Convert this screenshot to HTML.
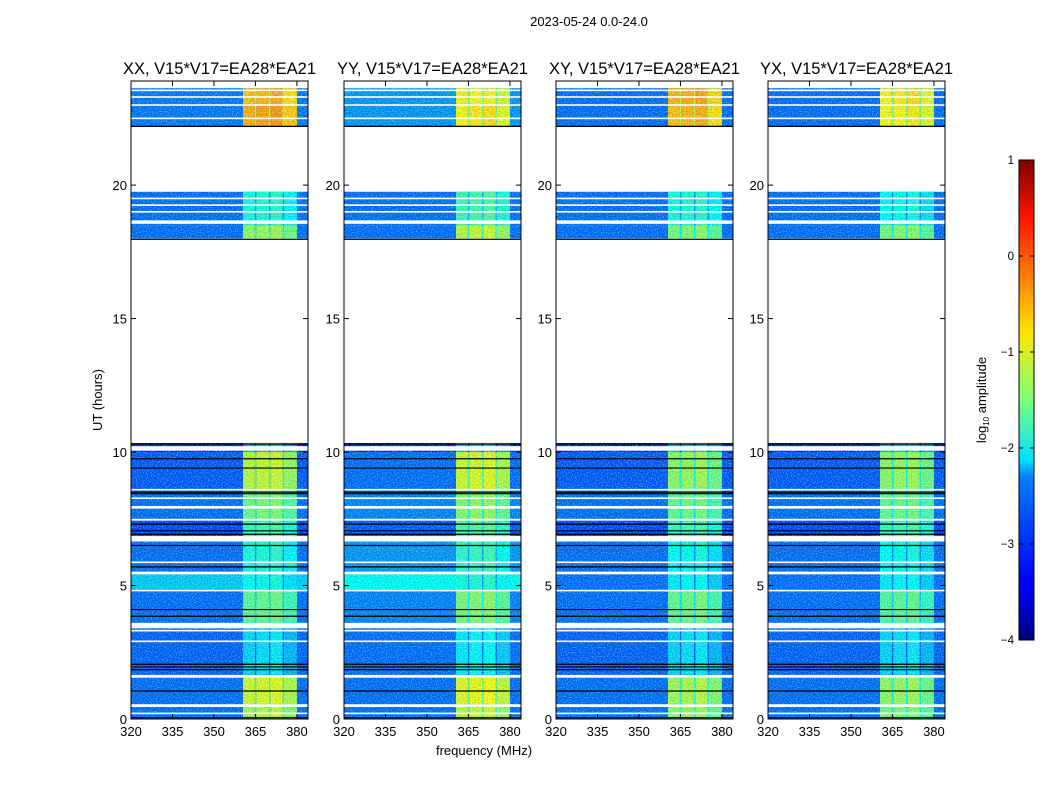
<!DOCTYPE html>
<html><head><meta charset="utf-8"><style>
html,body{margin:0;padding:0;background:#fff;}
svg{display:block;font-family:"Liberation Sans",sans-serif;}
</style></head><body>
<svg id="fig" width="1050" height="800" viewBox="0 0 1050 800" xmlns="http://www.w3.org/2000/svg">
<defs>
<filter id="noise" x="0" y="0" width="100%" height="100%">
<feTurbulence type="fractalNoise" baseFrequency="0.8" numOctaves="1" seed="3" result="t"/>
<feColorMatrix in="t" type="matrix" values="0 0 0 0 0  0 0 0 0 0  0 0 0 0 0  0 0 0 -1.2 0.7" result="a"/>
<feComposite in="a" in2="SourceGraphic" operator="in" result="m"/>
<feColorMatrix in="t" type="matrix" values="0 0 0 0 0.2  0 0 0 0 0.9  0 0 0 0 1  0 0 0 1.4 -0.75" result="b"/>
<feComposite in="b" in2="SourceGraphic" operator="in" result="m2"/>
<feMerge><feMergeNode in="SourceGraphic"/><feMergeNode in="m"/><feMergeNode in="m2"/></feMerge>
</filter>
<linearGradient id="jet" x1="0" y1="1" x2="0" y2="0">
<stop offset="0" stop-color="#00007f"/><stop offset="0.11" stop-color="#0000ff"/>
<stop offset="0.125" stop-color="#0000ff"/><stop offset="0.34" stop-color="#0080ff"/>
<stop offset="0.375" stop-color="#00e0ff"/><stop offset="0.5" stop-color="#7dff7a"/>
<stop offset="0.64" stop-color="#ffe600"/><stop offset="0.875" stop-color="#ff1600"/>
<stop offset="1" stop-color="#7f0000"/>
</linearGradient>
</defs>
<text x="589" y="26" font-size="13" text-anchor="middle">2023-05-24 0.0-24.0</text>
<g id="panels"></g>
<text x="484" y="755" font-size="13" text-anchor="middle">frequency (MHz)</text>
<text transform="translate(102,400) rotate(-90)" font-size="13" text-anchor="middle">UT (hours)</text>
<g id="cbar"></g>
</svg>
<script>
// ---- data ----
const panelTitles = ["XX, V15*V17=EA28*EA21","YY, V15*V17=EA28*EA21","XY, V15*V17=EA28*EA21","YX, V15*V17=EA28*EA21"];
const blockStart = [23.0, 22.2, 18.5, 18.0, 10.0, 8.6, 7.45, 6.85, 5.5, 4.8, 3.6, 1.65, 0.55, 0.0];
const blockEnd   = [23.63,23.0, 19.75,18.5, 10.34,10.0,8.6, 7.45, 6.65,5.45,4.8, 3.4,  1.55, 0.45];
const bgXX = [-2.75,-2.75,-2.8,-2.8,-3.2,-2.9,-2.8,-3.0,-2.8,-2.35,-2.8,-2.85,-2.8,-2.8];
const bgYY = [-2.6,-2.6,-2.8,-2.8,-3.2,-2.8,-2.7,-2.9,-2.6,-2.1,-2.7,-2.8,-2.8,-2.8];
const bgXY = [-2.8,-2.8,-2.8,-2.8,-3.2,-2.9,-2.8,-3.0,-2.8,-2.8,-2.8,-2.85,-2.8,-2.8];
const bgYX = [-2.8,-2.8,-2.8,-2.8,-3.2,-2.9,-2.8,-3.0,-2.8,-2.8,-2.8,-2.85,-2.8,-2.8];
const bandXX = [-0.6,-0.5,-2.0,-1.4,-2.5,-1.2,-1.55,-1.8,-2.0,-2.1,-1.65,-2.3,-1.1,-1.3];
const bandYY = [-0.95,-0.85,-1.8,-1.2,-2.5,-1.1,-1.45,-1.7,-1.9,-2.0,-1.5,-2.2,-1.0,-1.2];
const bandXY = [-0.55,-0.6,-2.0,-1.5,-2.5,-1.4,-1.6,-1.8,-2.1,-2.2,-1.6,-2.3,-1.3,-1.4];
const bandYX = [-0.85,-0.9,-2.1,-1.5,-2.5,-1.4,-1.6,-1.8,-2.1,-2.2,-1.7,-2.3,-1.4,-1.5];
const bandColStart = [360.5, 365.3, 370.4, 375.3];
const bandColEnd   = [364.8, 369.9, 374.8, 380.0];
const bandColOffset = [0.0, 0.05, 0.1, -0.15];
const whiteStart = [23.52,23.27,22.97,22.47,19.47,19.22,18.97,18.55,10.05,8.56,8.24,7.88,7.43,6.65,5.84,5.42,4.78,3.4,3.28,2.88,1.55,0.45,0.18];
const whiteEnd   = [23.58,23.33,23.03,22.53,19.53,19.28,19.03,18.68,10.22,8.62,8.3,7.98,7.5,6.85,5.9,5.52,4.84,3.6,3.34,2.94,1.65,0.55,0.24];
const blackLines = [22.2,17.97,10.3,9.75,9.4,8.5,8.44,7.3,7.05,6.92,6.5,5.7,4.1,3.85,2.05,1.95,1.85,1.05,0.05];
const xTicks = [320,335,350,365,380];
const yTicks = [0,5,10,15,20];
const cbTicks = [-4,-3,-2,-1,0,1];
const panelLeft = [131,344,556,768];
// ---- scales ----
const PW = 177, YT = 81, YB = 719, F0 = 320, F1 = 384, H1 = 23.9;
const xs = (p,f) => panelLeft[p] + (f-F0)/(F1-F0)*PW;
const ys = h => YB - h/H1*(YB-YT);
function jet(L){
  const v = Math.max(0,Math.min(1,(L+4)/5));
  const c = t => Math.round(255*Math.max(0,Math.min(1,1.5-Math.abs(4*v-t))));
  return `rgb(${c(3)},${c(2)},${c(1)})`;
}
const NS = "http://www.w3.org/2000/svg";
function mk(tag, attrs, parent){
  const e = document.createElementNS(NS, tag);
  for (const k in attrs) e.setAttribute(k, attrs[k]);
  parent.appendChild(e); return e;
}
const bgs = [bgXX,bgYY,bgXY,bgYX], bands = [bandXX,bandYY,bandXY,bandYX];
const panels = document.getElementById("panels");
for (let p=0;p<4;p++){
  const g = mk("g",{},panels);
  
  
  const hm = mk("g",{filter:"url(#noise)"},g);
  
  
  for (let i=0;i<blockStart.length;i++){
    const y0 = ys(blockEnd[i]), y1 = ys(blockStart[i]);
    const r = mk("rect",{x:xs(p,F0),y:y0,width:PW,height:y1-y0,fill:jet(bgs[p][i])},hm);
    
    
    for (let c=0;c<bandColStart.length-1;c++){
      const x0 = xs(p,bandColEnd[c]), x1 = xs(p,bandColStart[c+1]);
      const s = mk("rect",{x:x0,y:y0,width:x1-x0,height:y1-y0,fill:jet(bands[p][i]-0.6)},hm);
      
      
    }
    for (let c=0;c<bandColStart.length;c++){
      const x0 = xs(p,bandColStart[c]), x1 = xs(p,bandColEnd[c]);
      const b = mk("rect",{x:x0,y:y0,width:x1-x0,height:y1-y0,fill:jet(bands[p][i]+bandColOffset[c])},hm);
      
      
    }
  }
  for (let i=0;i<whiteStart.length;i++){
    const w = mk("rect",{x:xs(p,F0),y:ys(whiteEnd[i]),width:PW,height:ys(whiteStart[i])-ys(whiteEnd[i]),fill:"#fff"},g);
    
    
  }
  for (let i=0;i<blackLines.length;i++){
    const l = mk("line",{x1:xs(p,F0),x2:xs(p,F0)+PW,y1:ys(blackLines[i]),y2:ys(blackLines[i]),stroke:"#000","stroke-width":1.2},g);
    
    
  }
  const fr = mk("rect",{x:panelLeft[p],y:YT,width:PW,height:YB-YT,fill:"none",stroke:"#000","stroke-width":1},g);
  
  
  const t = mk("text",{x:panelLeft[p]+PW/2,y:74,"font-size":16.5,"text-anchor":"middle"},g);
  t.textContent = panelTitles[p];
  
  
  for (const f of xTicks){
    const x = xs(p,f);
    mk("line",{x1:x,x2:x,y1:YB,y2:YB-5,stroke:"#000"},g);
    mk("line",{x1:x,x2:x,y1:YT,y2:YT+5,stroke:"#000"},g);
    const tl = mk("text",{x:x,y:YB+17,"font-size":13,"text-anchor":"middle"},g);
    tl.textContent = f;
    
    
  }
  for (const h of yTicks){
    const y = ys(h);
    mk("line",{x1:panelLeft[p],x2:panelLeft[p]+5,y1:y,y2:y,stroke:"#000"},g);
    mk("line",{x1:panelLeft[p]+PW,x2:panelLeft[p]+PW-5,y1:y,y2:y,stroke:"#000"},g);
    const tl = mk("text",{x:panelLeft[p]-4,y:y+5,"font-size":13,"text-anchor":"end"},g);
    tl.textContent = h;
    
    
  }
}
// colorbar
const cb = document.getElementById("cbar");
const CX = 1019, CW = 15, CT = 160, CB = 640;
const cs = v => CB - (v+4)/5*(CB-CT);
const cr = mk("rect",{x:CX,y:CT,width:CW,height:CB-CT,fill:"url(#jet)",stroke:"#000"},cb);


for (const v of cbTicks){
  const y = cs(v);
  mk("line",{x1:CX,x2:CX+4,y1:y,y2:y,stroke:"#000"},cb);
  mk("line",{x1:CX+CW,x2:CX+CW-4,y1:y,y2:y,stroke:"#000"},cb);
  const tl = mk("text",{x:CX-5,y:y+4,"font-size":11.5,"text-anchor":"end"},cb);
  tl.textContent = v<0 ? "\u2212"+Math.abs(v) : String(v);
  
  
}
const cl = mk("text",{transform:"translate(986,400) rotate(-90)","font-size":13,"text-anchor":"middle"},cb);
cl.innerHTML = 'log<tspan font-size="8" dy="3">10</tspan><tspan dy="-3"> amplitude</tspan>';


</script>
</body></html>
